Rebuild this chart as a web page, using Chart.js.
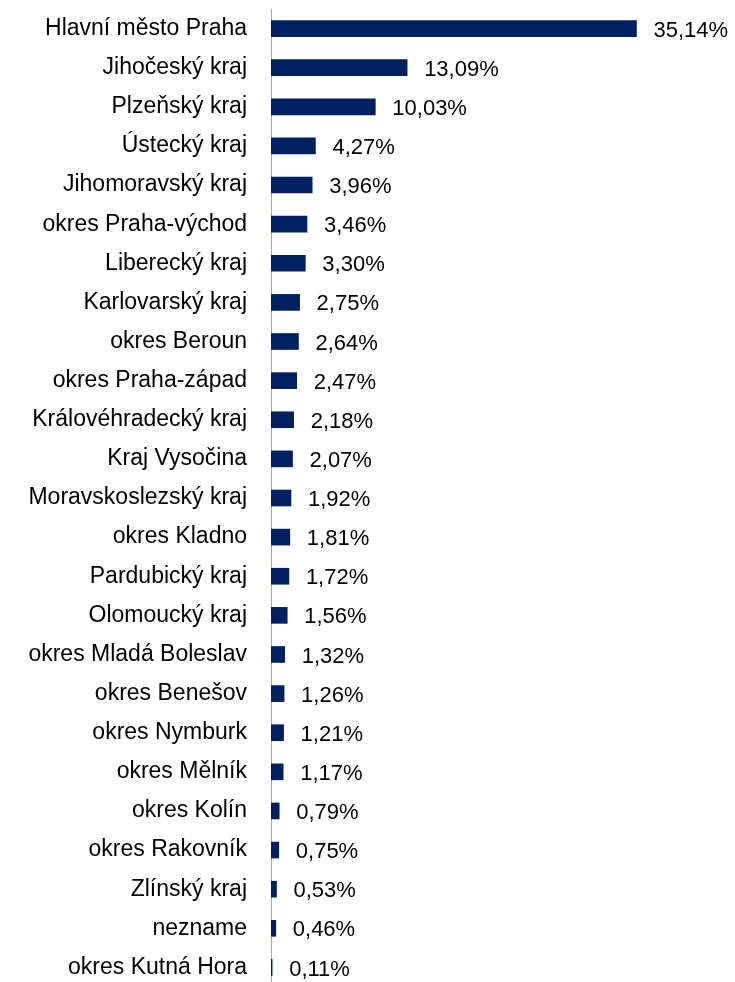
<!DOCTYPE html>
<html>
<head>
    <meta charset="utf-8">
    <title>Podíl podle krajů a okresů</title>
    <style>
        html, body {
            margin: 0;
            padding: 0;
            background: #ffffff;
            overflow: hidden;
        }
        #myChart {
            display: block;
        }
    </style>
</head>
<body>
    <canvas id="myChart" width="735" height="987"></canvas>
    <script src="https://cdn.jsdelivr.net/npm/chart.js"></script>
    <script>
        // Categories, top to bottom
        const regions = [
            'Hlavní město Praha', 'Jihočeský kraj', 'Plzeňský kraj', 'Ústecký kraj',
            'Jihomoravský kraj', 'okres Praha-východ', 'Liberecký kraj', 'Karlovarský kraj',
            'okres Beroun', 'okres Praha-západ', 'Královéhradecký kraj', 'Kraj Vysočina',
            'Moravskoslezský kraj', 'okres Kladno', 'Pardubický kraj', 'Olomoucký kraj',
            'okres Mladá Boleslav', 'okres Benešov', 'okres Nymburk', 'okres Mělník',
            'okres Kolín', 'okres Rakovník', 'Zlínský kraj', 'nezname', 'okres Kutná Hora'
        ];

        // Share in percent
        const shares = [
            35.14, 13.09, 10.03, 4.27,
            3.96, 3.46, 3.30, 2.75,
            2.64, 2.47, 2.18, 2.07,
            1.92, 1.81, 1.72, 1.56,
            1.32, 1.26, 1.21, 1.17,
            0.79, 0.75, 0.53, 0.46, 0.11
        ];

        const FONT = '"Liberation Sans", Arial, sans-serif';

        // writes the value next to each bar, with a decimal comma
        const valueLabels = {
            id: 'valueLabels',
            afterDatasetsDraw(chart) {
                const ctx = chart.ctx;
                const meta = chart.getDatasetMeta(0);
                ctx.save();
                ctx.font = '22px ' + FONT;
                ctx.fillStyle = '#000000';
                ctx.textBaseline = 'middle';
                ctx.textAlign = 'left';
                meta.data.forEach((bar, i) => {
                    const txt = shares[i].toFixed(2).replace('.', ',') + '%';
                    ctx.fillText(txt, bar.x + 17, bar.y + 2);
                });
                ctx.restore();
            }
        };

        const ctx = document.getElementById('myChart').getContext('2d');
        const myChart = new Chart(ctx, {
            type: 'bar',
            data: {
                labels: regions,
                datasets: [{
                    data: shares,
                    backgroundColor: '#002060',
                    borderWidth: 0,
                    barThickness: 16
                }]
            },
            options: {
                indexAxis: 'y',
                responsive: false,
                animation: false,
                layout: {
                    padding: { top: 9, bottom: 0, left: 0, right: 48 }
                },
                plugins: {
                    legend: { display: false },
                    tooltip: { enabled: false }
                },
                scales: {
                    x: {
                        display: false,
                        min: 0,
                        max: 40
                    },
                    y: {
                        grid: { display: false, drawTicks: false },
                        border: { display: true, color: '#a6a6a6', width: 1 },
                        ticks: {
                            color: '#000000',
                            padding: 24,
                            font: { family: FONT, size: 23 }
                        },
                        afterFit(scale) {
                            scale.width = 271;
                            // tick padding also pads top/bottom, drop that
                            scale.paddingTop = 0;
                            scale.paddingBottom = 0;
                        }
                    }
                }
            },
            plugins: [valueLabels]
        });
    </script>
</body>
</html>
